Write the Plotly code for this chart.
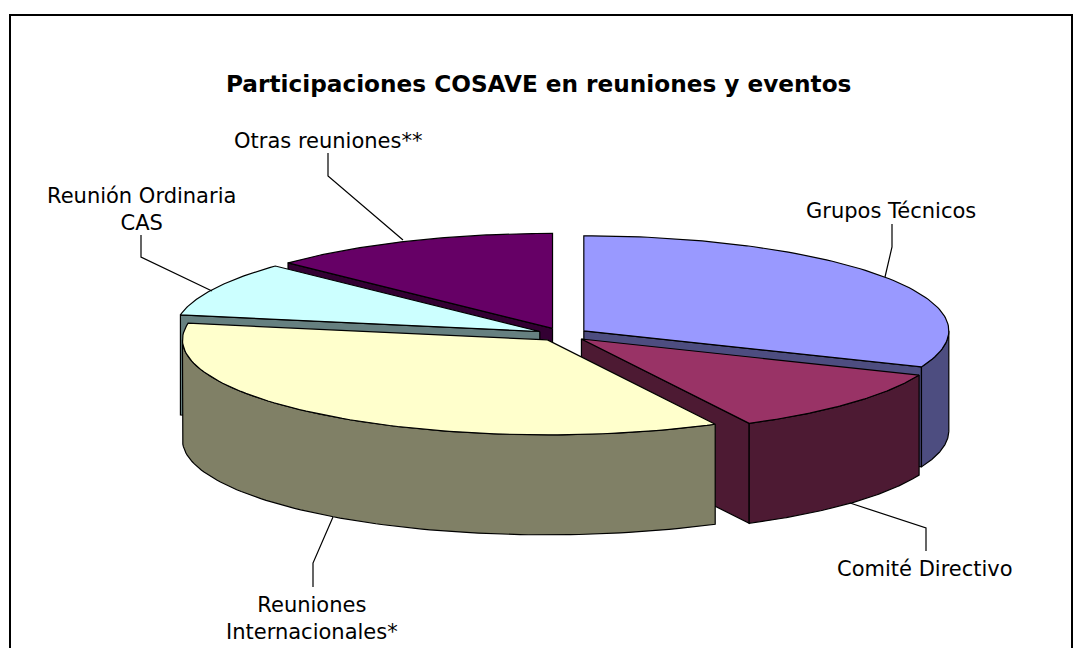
import numpy as np
import plotly.graph_objects as go

categories = ["Grupos Técnicos", "Comité Directivo", "Reuniones Internacionales*",
              "Reunión Ordinaria CAS", "Otras reuniones**"]
values = [31.2, 11.2, 35.4, 9.3, 12.9]
top_colors = ["#9999FF", "#993366", "#FFFFCC", "#CCFFFF", "#660066"]
side_colors = ["#4D4D80", "#4D1A33", "#808066", "#668080", "#330033"]
draw_order = [4, 0, 3, 1, 2]

title_text = "Participaciones COSAVE en reuniones y eventos"
label_lines = {
    0: ("Grupos Técnicos", 891, 211),
    1: ("Comité Directivo", 925, 569),
    2: ("Reuniones<br>Internacionales*", 312, 618),
    3: ("Reunión Ordinaria<br>CAS", 141, 209),
    4: ("Otras reuniones**", 328, 141),
}
leaders = [
    [(892, 224), (892, 247), (885, 277)],
    [(850, 503), (926, 528), (926, 551)],
    [(333, 517), (313, 563), (313, 587)],
    [(212, 291), (141, 257), (141, 235)],
    [(403, 240), (328, 176), (328, 153)],
]

CX, CY, RX, RY, DEPTH, EXPLODE = 562.6, 334.5, 365.0, 95.0, 100.0, 0.07

fracs = np.array(values, dtype=float) / sum(values)
ends = np.cumsum(fracs) * 2 * np.pi
starts = ends - fracs * 2 * np.pi


def polygon(xs, ys, fill):
    return go.Scatter(x=list(xs) + [xs[0]], y=list(ys) + [ys[0]], mode="lines", fill="toself",
                      fillcolor=fill, line=dict(color="#000000", width=1.2),
                      hoverinfo="skip", showlegend=False)


fig = go.Figure()
for i in draw_order:
    a0, a1 = starts[i], ends[i]
    mid = (a0 + a1) / 2
    ax = CX + RX * EXPLODE * np.sin(mid)
    ay = CY - RY * EXPLODE * np.cos(mid)
    t = np.linspace(a0, a1, 90)
    rim_x = ax + RX * np.sin(t)
    rim_y = ay - RY * np.cos(t)
    # radial face turned towards the viewer
    for ang, visible in ((a0, np.sin(a0) < -1e-9), (a1, np.sin(a1) > 1e-9)):
        if visible:
            ex, ey = ax + RX * np.sin(ang), ay - RY * np.cos(ang)
            fig.add_trace(polygon([ax, ex, ex, ax], [ay, ey, ey + DEPTH, ay + DEPTH], side_colors[i]))
    # outer wall, front half only
    lo, hi = max(a0, np.pi / 2), min(a1, 3 * np.pi / 2)
    if hi > lo:
        w = np.linspace(lo, hi, 90)
        wx = ax + RX * np.sin(w)
        wy = ay - RY * np.cos(w)
        fig.add_trace(polygon(np.r_[wx, wx[::-1]], np.r_[wy, wy[::-1] + DEPTH], side_colors[i]))
    fig.add_trace(polygon(np.r_[ax, rim_x], np.r_[ay, rim_y], top_colors[i]))

shapes = [dict(type="rect", x0=10, y0=15, x1=1072, y1=670, line=dict(color="#000000", width=2),
               fillcolor="rgba(0,0,0,0)", layer="below")]
for pts in leaders:
    d = "M " + " L ".join(f"{x} {y}" for x, y in pts)
    shapes.append(dict(type="path", path=d, line=dict(color="#000000", width=1.2)))

annotations = [dict(x=538, y=83, text=f"<b>{title_text}</b>", showarrow=False,
                    font=dict(family="DejaVu Sans", size=23.2, color="#000000"))]
for i, (txt, x, y) in label_lines.items():
    annotations.append(dict(x=x, y=y, text=txt, showarrow=False,
                            font=dict(family="DejaVu Sans", size=21, color="#000000")))

fig.update_layout(
    width=1080, height=648, margin=dict(l=0, r=0, t=0, b=0),
    paper_bgcolor="#FFFFFF", plot_bgcolor="#FFFFFF",
    xaxis=dict(range=[0, 1080], visible=False, fixedrange=True),
    yaxis=dict(range=[648, 0], visible=False, fixedrange=True),
    shapes=shapes, annotations=annotations, showlegend=False,
)
fig.write_html("out.html", config=dict(displayModeBar=False),
               post_script="document.body.style.margin='0';document.body.style.overflow='hidden';")
